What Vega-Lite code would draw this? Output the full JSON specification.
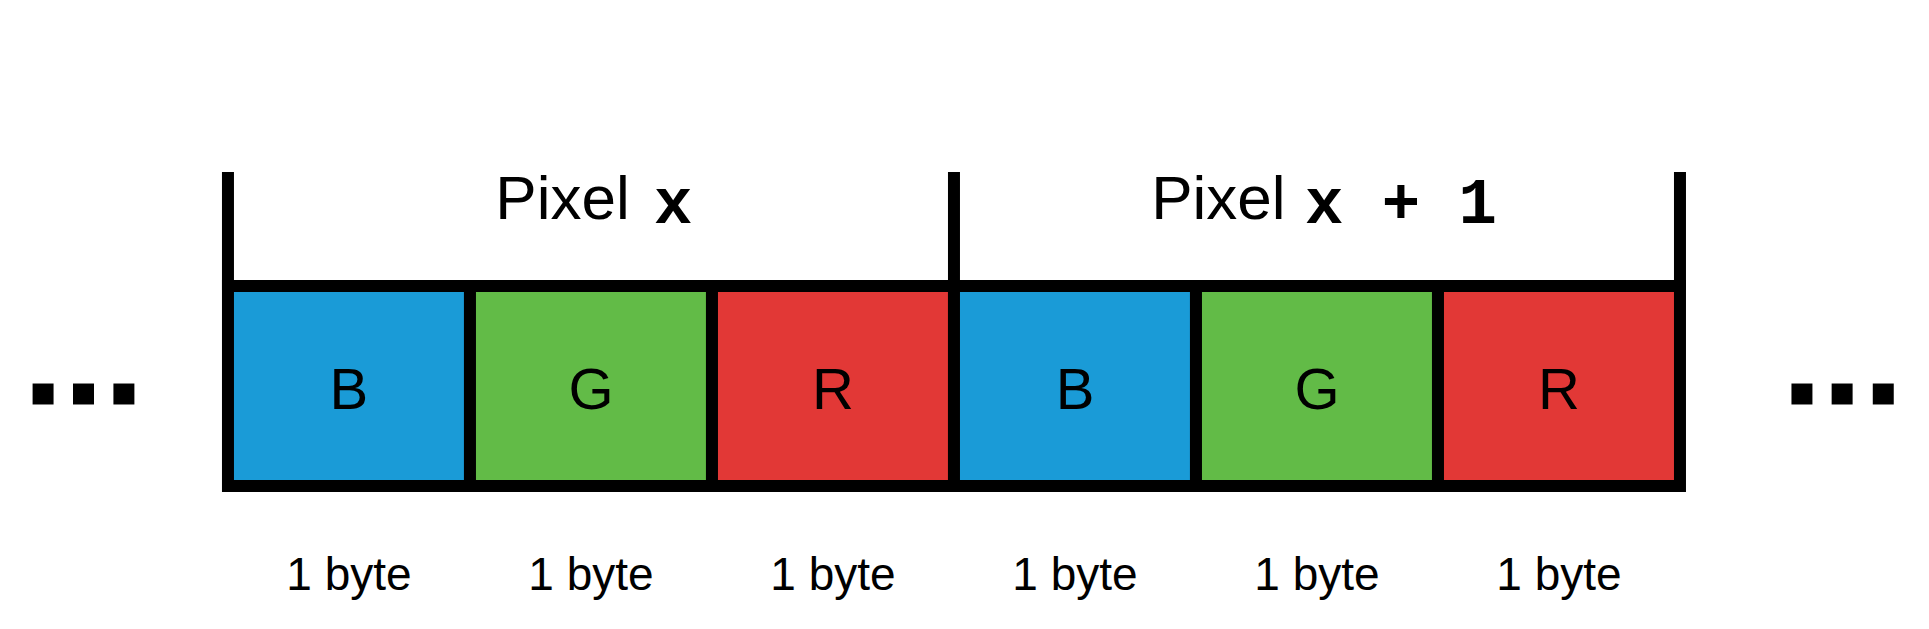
{
"$schema":"https://vega.github.io/schema/vega-lite/v6.json",
"width":1929,"height":629,"padding":0,
"autosize":{"type":"fit","contains":"padding"},
"config":{"view":{"stroke":null}},
"datasets":{
"cells":[
{"i":0,"i2":1,"ch":"B","c":"blue","mid":0.5},
{"i":1,"i2":2,"ch":"G","c":"green","mid":1.5},
{"i":2,"i2":3,"ch":"R","c":"red","mid":2.5},
{"i":3,"i2":4,"ch":"B","c":"blue","mid":3.5},
{"i":4,"i2":5,"ch":"G","c":"green","mid":4.5},
{"i":5,"i2":6,"ch":"R","c":"red","mid":5.5}],
"ticks":[{"x":0},{"x":3},{"x":6}],
"pix":[{"a":1.66,"b":1.76,"t":"x"},{"a":4.37,"b":4.45,"t":"x + 1"}],
"dots":[{"x":-0.764},{"x":-0.597},{"x":-0.43},{"x":6.504},{"x":6.67},{"x":6.84}]
},
"layer":[
{"data":{"name":"cells"},"mark":{"type":"rect","stroke":"black","strokeWidth":12},
"encoding":{"x":{"field":"i","type":"quantitative","scale":{"domain":[-0.942,7.029],"nice":false,"zero":false},"axis":null},"x2":{"field":"i2"},
"y":{"datum":286,"type":"quantitative","scale":{"domain":[0,629],"nice":false,"reverse":true},"axis":null},"y2":{"datum":486},
"fill":{"field":"c","type":"nominal","scale":{"domain":["blue","green","red"],"range":["#1A9BD7","#62BB47","#E23836"]},"legend":null}}},
{"data":{"name":"cells"},"mark":{"type":"text","font":"Liberation Sans","fontSize":58,"baseline":"middle"},
"encoding":{"x":{"field":"mid","type":"quantitative"},"y":{"datum":392,"type":"quantitative"},"text":{"field":"ch"}}},
{"data":{"name":"cells"},"mark":{"type":"text","font":"Liberation Sans","fontSize":46,"baseline":"middle","text":"1 byte"},
"encoding":{"x":{"field":"mid","type":"quantitative"},"y":{"datum":576,"type":"quantitative"}}},
{"data":{"name":"ticks"},"mark":{"type":"rule","strokeWidth":12,"color":"black"},
"encoding":{"x":{"field":"x","type":"quantitative"},"y":{"datum":172,"type":"quantitative"},"y2":{"datum":290}}},
{"data":{"name":"pix"},"mark":{"type":"text","font":"Liberation Sans","fontSize":62,"align":"right","baseline":"middle","text":"Pixel"},
"encoding":{"x":{"field":"a","type":"quantitative"},"y":{"datum":200,"type":"quantitative"}}},
{"data":{"name":"pix"},"mark":{"type":"text","font":"Liberation Mono","fontWeight":"bold","fontSize":64,"align":"left","baseline":"middle"},
"encoding":{"x":{"field":"b","type":"quantitative"},"y":{"datum":204,"type":"quantitative"},"text":{"field":"t"}}},
{"data":{"name":"dots"},"mark":{"type":"point","shape":"square","filled":true,"color":"black","opacity":1,"size":440},
"encoding":{"x":{"field":"x","type":"quantitative"},"y":{"datum":394,"type":"quantitative"}}}
]
}
